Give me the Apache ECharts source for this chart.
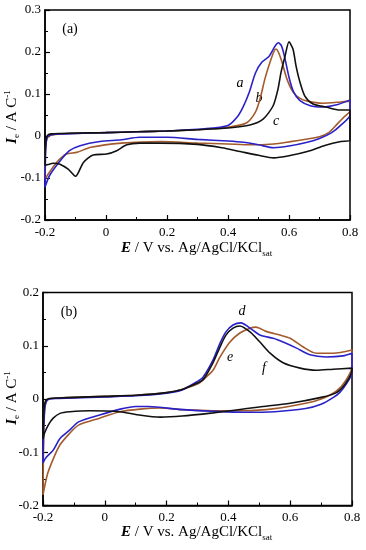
<!DOCTYPE html>
<html><head><meta charset="utf-8">
<script src="https://cdn.jsdelivr.net/npm/echarts@6/dist/echarts.min.js"></script>
<style>html,body{margin:0;padding:0;background:#fff}#c{width:366px;height:550px}</style>
</head><body><div id="c"></div>
<script>
// Panel (a) x-axis ticks and y-axis ticks
var xTicks = [-0.2, 0, 0.2, 0.4, 0.6, 0.8];
var yTicksA = [-0.2, -0.1, 0, 0.1, 0.2, 0.3];
var yTicksB = [-0.2, -0.1, 0, 0.1, 0.2];

// Curve a (blue), closed CV loop: forward then reverse scan
var aE = [-0.2,-0.198,-0.195,-0.19,-0.18,-0.15,-0.1,0.0,0.1,0.2,0.3,0.35,0.4,0.43,0.45,0.47,0.49,0.51,0.535,0.555,0.565,0.575,0.585,0.6,0.615,0.635,0.67,0.71,0.76,0.8,
          0.8,0.77,0.74,0.7,0.66,0.6,0.55,0.5,0.45,0.4,0.3,0.2,0.11,0.05,-0.02,-0.085,-0.12,-0.15,-0.185,-0.2];
var aI = [-0.122,-0.04,-0.01,0.0,0.003,0.005,0.006,0.008,0.01,0.012,0.016,0.019,0.025,0.045,0.07,0.105,0.15,0.175,0.19,0.215,0.222,0.215,0.19,0.14,0.105,0.085,0.072,0.069,0.075,0.086,
          0.05,0.026,0.008,-0.006,-0.015,-0.024,-0.028,-0.021,-0.015,-0.012,-0.008,-0.003,-0.003,-0.009,-0.013,-0.023,-0.035,-0.059,-0.094,-0.122];
// Curve b (brown)
var bE = [-0.2,-0.199,-0.196,-0.19,-0.18,-0.15,-0.1,0,0.1,0.2,0.3,0.4,0.46,0.49,0.505,0.521,0.538,0.55,0.557,0.565,0.577,0.593,0.613,0.635,0.66,0.71,0.77,0.8,
          0.8,0.78,0.76,0.73,0.7,0.66,0.6,0.55,0.47,0.4,0.3,0.18,0.05,-0.05,-0.096,-0.13,-0.162,-0.189,-0.2];
var bI = [-0.103,-0.04,-0.012,-0.002,0.002,0.005,0.006,0.008,0.01,0.012,0.015,0.021,0.031,0.057,0.088,0.136,0.176,0.2,0.207,0.2,0.176,0.136,0.105,0.09,0.083,0.078,0.081,0.083,
          0.06,0.045,0.03,0.008,-0.002,-0.007,-0.014,-0.019,-0.021,-0.019,-0.017,-0.013,-0.017,-0.027,-0.039,-0.043,-0.063,-0.09,-0.103];
// Curve c (black)
var cE = [-0.2,-0.199,-0.196,-0.19,-0.18,-0.15,-0.1,0,0.1,0.2,0.3,0.4,0.472,0.515,0.548,0.564,0.574,0.587,0.6,0.613,0.623,0.636,0.652,0.679,0.721,0.767,0.8,
          0.8,0.77,0.72,0.66,0.6,0.55,0.5,0.44,0.38,0.3,0.177,0.111,0.068,0.035,0.002,-0.042,-0.074,-0.1,-0.124,-0.151,-0.173,-0.19,-0.2];
var cI = [-0.07,-0.03,-0.005,0.003,0.005,0.006,0.007,0.008,0.01,0.012,0.015,0.019,0.026,0.04,0.072,0.112,0.152,0.19,0.224,0.207,0.167,0.128,0.095,0.076,0.069,0.062,0.062,
          -0.01,-0.013,-0.022,-0.037,-0.047,-0.052,-0.046,-0.037,-0.028,-0.02,-0.017,-0.017,-0.021,-0.035,-0.043,-0.045,-0.063,-0.096,-0.079,-0.067,-0.065,-0.068,-0.07];

// Panel (b): curve d (blue)
var dE = [-0.2,-0.198,-0.195,-0.19,-0.18,-0.15,-0.1,0,0.1,0.2,0.25,0.3,0.318,0.35,0.373,0.392,0.415,0.441,0.47,0.502,0.545,0.577,0.619,0.664,0.716,0.771,0.8,
          0.8,0.78,0.76,0.74,0.7,0.65,0.55,0.45,0.35,0.25,0.14,0.1,0.05,-0.017,-0.085,-0.113,-0.145,-0.167,-0.19,-0.2];
var dI = [-0.12,-0.06,-0.02,-0.005,0.0,0.001,0.002,0.004,0.006,0.011,0.017,0.033,0.041,0.073,0.105,0.126,0.139,0.143,0.133,0.12,0.114,0.107,0.096,0.083,0.079,0.081,0.086,
          0.05,0.027,0.012,0.003,-0.01,-0.018,-0.024,-0.025,-0.023,-0.02,-0.014,-0.014,-0.019,-0.03,-0.043,-0.058,-0.074,-0.096,-0.11,-0.12];
// curve e (brown)
var eE = [-0.2,-0.198,-0.195,-0.19,-0.18,-0.15,-0.1,0,0.1,0.2,0.25,0.3,0.318,0.35,0.373,0.405,0.437,0.47,0.489,0.522,0.567,0.6,0.641,0.684,0.739,0.8,
          0.8,0.78,0.75,0.7,0.65,0.55,0.45,0.35,0.25,0.179,0.114,0.049,-0.017,-0.085,-0.113,-0.145,-0.165,-0.185,-0.2];
var eI = [-0.18,-0.08,-0.025,-0.006,0.0,0.002,0.003,0.005,0.007,0.012,0.018,0.028,0.036,0.054,0.079,0.107,0.124,0.133,0.135,0.127,0.12,0.114,0.098,0.086,0.086,0.092,
          0.06,0.035,0.015,0.0,-0.008,-0.018,-0.022,-0.022,-0.02,-0.017,-0.019,-0.024,-0.036,-0.049,-0.064,-0.086,-0.11,-0.14,-0.18];
// curve f (black)
var fE = [-0.2,-0.198,-0.195,-0.19,-0.18,-0.15,-0.1,0,0.1,0.2,0.25,0.3,0.318,0.35,0.373,0.392,0.415,0.437,0.47,0.502,0.535,0.577,0.632,0.684,0.739,0.8,
          0.8,0.78,0.75,0.7,0.6,0.5,0.42,0.35,0.25,0.179,0.1,0.049,-0.048,-0.113,-0.145,-0.167,-0.183,-0.195,-0.2];
var fI = [-0.075,-0.03,-0.01,-0.002,0.001,0.002,0.003,0.005,0.007,0.012,0.018,0.03,0.036,0.068,0.098,0.12,0.133,0.137,0.126,0.107,0.086,0.068,0.058,0.054,0.056,0.058,
          0.055,0.03,0.012,0.003,-0.008,-0.015,-0.021,-0.026,-0.032,-0.034,-0.029,-0.024,-0.022,-0.024,-0.027,-0.036,-0.049,-0.064,-0.075];

var BLUE = '#2a22c8', BROWN = '#a35a2c', BLACK = '#111111';
var FONT = '"Liberation Serif", "Times New Roman", serif';

function pairs(E, I) { return E.map(function (e, i) { return [e, I[i]]; }); }
function line(E, I, color, idx) {
  return { type: 'line', xAxisIndex: idx, yAxisIndex: idx, data: pairs(E, I), showSymbol: false, symbol: 'none',
           smooth: 0.25, lineStyle: { color: color, width: 1.6 }, animation: false, z: color === BLACK ? 3 : 2 };
}
function xAx(idx) {
  return { type: 'value', gridIndex: idx, min: -0.2, max: 0.8, interval: 0.2,
    axisLine: { show: true, onZero: false, lineStyle: { color: '#000', width: 1.5 } },
    axisTick: { show: true, inside: true, length: 5, lineStyle: { color: '#000', width: 1.2 } },
    minorTick: { show: true, splitNumber: 2, length: 3, lineStyle: { color: '#000', width: 1 } },
    splitLine: { show: false },
    axisLabel: { color: '#000', fontFamily: FONT, fontSize: 13, margin: 6,
      formatter: function (v) { var r = Math.round(v * 10) / 10; return xTicks.indexOf(r) >= 0 ? String(r) : ''; } } };
}
function yAx(idx, min, max, ticks) {
  return { type: 'value', gridIndex: idx, min: min, max: max, interval: 0.1,
    axisLine: { show: true, onZero: false, lineStyle: { color: '#000', width: 1.5 } },
    axisTick: { show: true, inside: true, length: 5, lineStyle: { color: '#000', width: 1.2 } },
    minorTick: { show: true, splitNumber: 2, length: 3, lineStyle: { color: '#000', width: 1 } },
    splitLine: { show: false },
    axisLabel: { color: '#000', fontFamily: FONT, fontSize: 13, margin: 4,
      formatter: function (v) { var r = Math.round(v * 10) / 10; return ticks.indexOf(r) >= 0 ? String(r) : ''; } } };
}
var rich = {
  b: { fontFamily: FONT, fontSize: 15, fontWeight: 'bold', fontStyle: 'italic', fill: '#000' },
  n: { fontFamily: FONT, fontSize: 15, fill: '#000' },
  sub: { fontFamily: FONT, fontSize: 9, fill: '#000', padding: [10, 0, 0, 0] },
  sup: { fontFamily: FONT, fontSize: 9, fill: '#000', padding: [0, 0, 8, 0] }
};
function xTitle(y) {
  return { type: 'text', left: 121, top: y, style: { text: '{b|E}{n| / V vs. Ag/AgCl/KCl}{sub|sat}', rich: rich, fill: '#000' } };
}
function yTitle(cx, cy) {
  return { type: 'text', x: cx, y: cy, rotation: Math.PI / 2,
    style: { text: '{b|I}{sub|e}{n| / A C}{sup|-1}', rich: rich, align: 'center', verticalAlign: 'middle', fill: '#000' } };
}
function lbl(t, x, y, italic) {
  return { type: 'text', x: x, y: y, style: { text: t, fill: '#000', font: (italic ? 'italic ' : '') + '14px ' + FONT, align: 'center', verticalAlign: 'middle' } };
}

var chart = echarts.init(document.getElementById('c'), null, { renderer: 'canvas' });
chart.setOption({
  animation: false,
  backgroundColor: '#fff',
  grid: [
    { left: 45, right: 16, top: 10, height: 210, show: true, borderColor: '#000', borderWidth: 1.5, backgroundColor: 'transparent' },
    { left: 43, right: 14, top: 292.5, height: 213, show: true, borderColor: '#000', borderWidth: 1.5, backgroundColor: 'transparent' }
  ],
  xAxis: [xAx(0), xAx(1)],
  yAxis: [yAx(0, -0.2, 0.3, yTicksA), yAx(1, -0.2, 0.2, yTicksB)],
  series: [
    line(bE, bI, BROWN, 0), line(aE, aI, BLUE, 0), line(cE, cI, BLACK, 0),
    line(eE, eI, BROWN, 1), line(dE, dI, BLUE, 1), line(fE, fI, BLACK, 1)
  ],
  graphic: [
    xTitle(241), xTitle(525),
    yTitle(12, 117), yTitle(12, 398),
    lbl('(a)', 70, 29, false), lbl('(b)', 69, 312, false),
    lbl('a', 240, 83, true), lbl('b', 259, 98, true), lbl('c', 276, 121, true),
    lbl('d', 242, 311, true), lbl('e', 230, 357, true), lbl('f', 264, 368, true)
  ]
});
</script></body></html>
